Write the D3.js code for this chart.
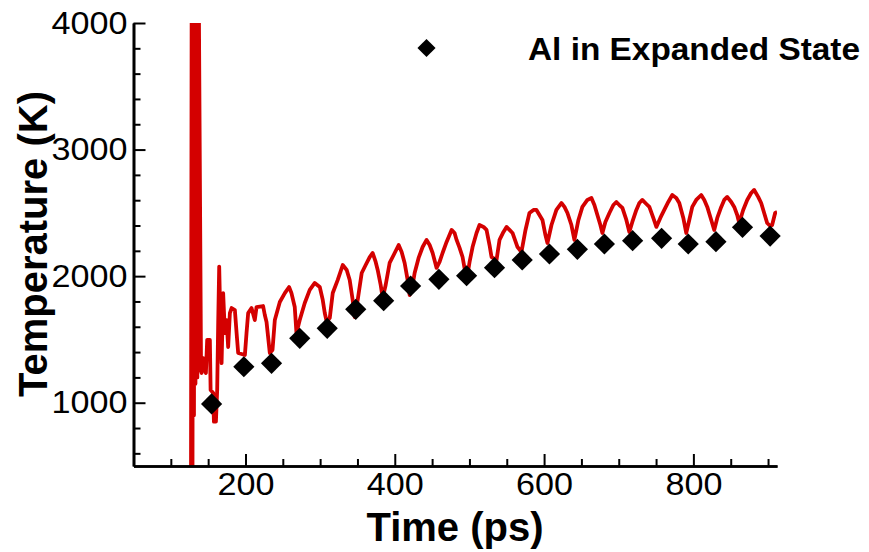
<!DOCTYPE html>
<html>
<head>
<meta charset="utf-8">
<script src="https://cdn.jsdelivr.net/npm/d3@7"></script>
<style>
  html, body { margin: 0; padding: 0; background: #fff; }
  svg { display: block; }
  text { font-family: "Liberation Sans", Arial, Helvetica, sans-serif; }
</style>
</head>
<body>
<svg id="chart" width="869" height="552"></svg>
<script>
// ---------- data ----------
const xMajorTicks = [200, 400, 600, 800];
const xMinorTicks = [100, 150, 250, 300, 350, 450, 500, 550, 650, 700, 750, 850, 900];
const yMajorTicks = [1000, 2000, 3000, 4000];
const yMinorTicks = [600, 800, 1200, 1400, 1600, 1800, 2200, 2400, 2600, 2800, 3200, 3400, 3600, 3800];

// Al in Expanded State (diamonds)
const expandedTime = [154.6, 197.8, 234.9, 272.7, 309.5, 347.7, 385.1, 421.2, 459.1, 496.2, 533.6,
                      570.7, 607.2, 644.6, 680.8, 718.6, 757.4, 793.1, 830.2, 865.8, 902.8];
const expandedTemp = [990, 1284, 1311, 1509, 1588, 1738, 1806, 1922, 1975, 2003, 2067,
                      2128, 2175, 2212, 2254, 2280, 2299, 2254, 2272, 2386, 2317];

// temperature trace (red line)
const traceTime = [127, 128, 129, 130, 131, 132, 133, 134.5, 135.5, 136.5, 137.2, 140.5,
  141.2, 143.4, 145.2, 147.0, 148.7, 152.3, 153.3, 156.8, 157.7, 160.4, 162.1, 163.5, 164.8,
  166.7, 168.0, 170.1, 172.4, 174.7, 176.8, 179.1, 181.4, 185.8, 188.1, 190.2, 199.2, 201.4,
  203.6, 208.1, 212.5, 214.8, 223.6, 225.9, 228.2, 232.6, 236.2, 239.3, 246.0, 252.7, 258.4,
  261.6, 266.0, 268.3, 272.7, 279.4, 286.1, 292.8, 299.5, 303.5, 306.2, 308.9, 312.9, 316.9,
  323.6, 330.3, 335.6, 339.6, 343.6, 346.3, 350.3, 355.7, 361.0, 366.4, 370.4, 374.4, 377.1,
  381.1, 383.8, 387.8, 393.1, 398.5, 405.2, 409.2, 413.2, 417.2, 419.9, 423.9, 426.6, 431.9,
  437.3, 442.6, 446.7, 450.7, 456.0, 460.0, 464.0, 469.4, 476.1, 480.1, 482.8, 486.8, 490.8,
  496.2, 500.2, 504.2, 509.5, 513.5, 518.9, 522.9, 526.9, 529.6, 536.3, 540.3, 545.6, 549.7,
  553.7, 557.7, 564.4, 569.7, 575.1, 580.4, 585.8, 589.8, 593.8, 597.8, 601.8, 604.5, 609.9,
  616.5, 623.2, 627.3, 631.3, 636.6, 640.6, 646.0, 651.3, 658.0, 663.4, 667.4, 671.4, 675.4,
  678.1, 682.1, 687.5, 692.8, 696.8, 700.8, 704.9, 710.2, 714.2, 718.2, 723.6, 727.6, 731.6,
  737.0, 741.0, 746.3, 750.4, 755.7, 761.0, 766.4, 771.7, 777.1, 781.1, 786.5, 790.4, 794.5,
  798.5, 803.8, 810.5, 814.6, 818.6, 823.9, 827.9, 832.0, 837.3, 841.3, 845.3, 850.7, 854.7,
  858.7, 861.4, 866.7, 872.1, 877.4, 881.4, 886.8, 890.8, 894.8, 898.8, 902.9, 905.5, 909.5, 912.2];
const traceTemp = [300, 4600, 250, 4600, 900, 4700, 1150, 4700, 1200, 4800, 4500, 1250,
  1235, 1353, 1260, 1235, 1496, 1496, 1100, 1077, 850, 850, 1100, 1650, 2075,
  1550, 1313, 1866, 1550, 1653, 1440, 1708, 1748, 1732, 1550, 1393, 1377, 1550,
  1708, 1748, 1653, 1756, 1764, 1693, 1638, 1393, 1417, 1653, 1796, 1866, 1914,
  1866, 1756, 1551, 1654, 1788, 1891, 1946, 1914, 1812, 1709, 1638, 1670, 1867,
  1970, 2088, 2049, 1970, 1812, 1677, 1812, 2025, 2088, 2151, 2183, 2112, 2049,
  1930, 1828, 1930, 2104, 2167, 2246, 2191, 2104, 1970, 1851, 1930, 2025, 2144,
  2230, 2286, 2246, 2183, 2065, 2112, 2183, 2270, 2365, 2341, 2286, 2223, 2151,
  1970, 2112, 2230, 2341, 2404, 2389, 2365, 2246, 2151, 2128, 2286, 2349, 2389,
  2365, 2341, 2230, 2191, 2365, 2499, 2523, 2523, 2483, 2444, 2325, 2262, 2404,
  2523, 2578, 2547, 2499, 2404, 2286, 2444, 2547, 2602, 2618, 2562, 2483, 2404,
  2341, 2428, 2499, 2562, 2586, 2562, 2539, 2444, 2349, 2428, 2523, 2578, 2602,
  2570, 2547, 2460, 2389, 2460, 2523, 2586, 2641, 2618, 2578, 2460, 2341, 2444,
  2547, 2602, 2641, 2602, 2547, 2444, 2365, 2460, 2547, 2602, 2626, 2586, 2547,
  2483, 2420, 2523, 2602, 2657, 2681, 2626, 2578, 2499, 2420, 2396, 2404, 2499, 2507];

const legendLabel = "Al in Expanded State";
const xTitle = "Time (ps)";
const yTitle = "Temperature (K)";

// ---------- layout ----------
const svg = d3.select("#chart");
const plotLeft = 133.5, plotRight = 777, plotTop = 23, plotBottom = 466;
const x = d3.scaleLinear().domain([50, 912]).range([plotLeft, plotRight]);
const y = d3.scaleLinear().domain([500, 4000]).range([plotBottom, plotTop]);

svg.append("defs").append("clipPath").attr("id", "plotclip")
  .append("rect").attr("x", plotLeft).attr("y", plotTop)
  .attr("width", plotRight - plotLeft).attr("height", plotBottom - plotTop);

// red trace
const traceData = traceTime.map((t, i) => [t, traceTemp[i]]);
svg.append("path")
  .datum(traceData)
  .attr("clip-path", "url(#plotclip)")
  .attr("fill", "none")
  .attr("stroke", "#d40000")
  .attr("stroke-width", 3.8)
  .attr("stroke-linejoin", "round")
  .attr("d", d3.line().x(d => x(d[0])).y(d => y(d[1])));

// diamonds
const diamond = d3.symbol().type(d3.symbolSquare).size(225);
svg.append("g").selectAll("path")
  .data(expandedTime.map((t, i) => [t, expandedTemp[i]]))
  .join("path")
  .attr("d", diamond)
  .attr("transform", d => `translate(${x(d[0])},${y(d[1])}) rotate(45)`)
  .attr("fill", "#000");

// axes
function styleAxis(g) {
  g.select(".domain").attr("stroke", "#000").attr("stroke-width", 2.6);
  g.selectAll(".tick line").attr("stroke", "#000").attr("stroke-width", 2);
}
function styleLabels(g) {
  g.selectAll("text")
    .attr("font-size", 32).attr("fill", "#000")
    .attr("font-family", "Liberation Sans, Arial, sans-serif")
    .attr("lengthAdjust", "spacingAndGlyphs")
    .attr("textLength", function () { return this.textContent.length * 19; });
}
const xAxisMinor = d3.axisBottom(x).tickValues(xMinorTicks).tickSizeInner(-7).tickSizeOuter(0).tickFormat("");
const xAxisMajor = d3.axisBottom(x).tickValues(xMajorTicks).tickSizeInner(-12).tickSizeOuter(0).tickPadding(6).tickFormat(d3.format("d"));
const yAxisMinor = d3.axisLeft(y).tickValues(yMinorTicks).tickSizeInner(-7).tickSizeOuter(0).tickFormat("");
const yAxisMajor = d3.axisLeft(y).tickValues(yMajorTicks).tickSizeInner(-12).tickSizeOuter(0).tickPadding(6).tickFormat(d3.format("d"));

const gx1 = svg.append("g").attr("transform", `translate(0,${plotBottom})`).call(xAxisMinor); styleAxis(gx1);
const gx2 = svg.append("g").attr("transform", `translate(0,${plotBottom})`).call(xAxisMajor); styleAxis(gx2); styleLabels(gx2);
const gy1 = svg.append("g").attr("transform", `translate(${plotLeft},0)`).call(yAxisMinor); styleAxis(gy1);
const gy2 = svg.append("g").attr("transform", `translate(${plotLeft},0)`).call(yAxisMajor); styleAxis(gy2); styleLabels(gy2);

// titles
svg.append("text").attr("x", 455).attr("y", 541).attr("text-anchor", "middle")
  .attr("font-size", 40).attr("font-weight", "bold").text(xTitle);
svg.append("text").attr("transform", "translate(47,244) rotate(-90)").attr("text-anchor", "middle")
  .attr("font-size", 40).attr("font-weight", "bold").text(yTitle);

// legend
svg.append("path").attr("d", d3.symbol().type(d3.symbolSquare).size(165))
  .attr("transform", "translate(426.5,48) rotate(45)").attr("fill", "#000");
svg.append("text").attr("x", 528).attr("y", 60).attr("font-size", 32).attr("font-weight", "bold")
  .attr("lengthAdjust", "spacingAndGlyphs").attr("textLength", 332).text(legendLabel);
</script>
</body>
</html>
